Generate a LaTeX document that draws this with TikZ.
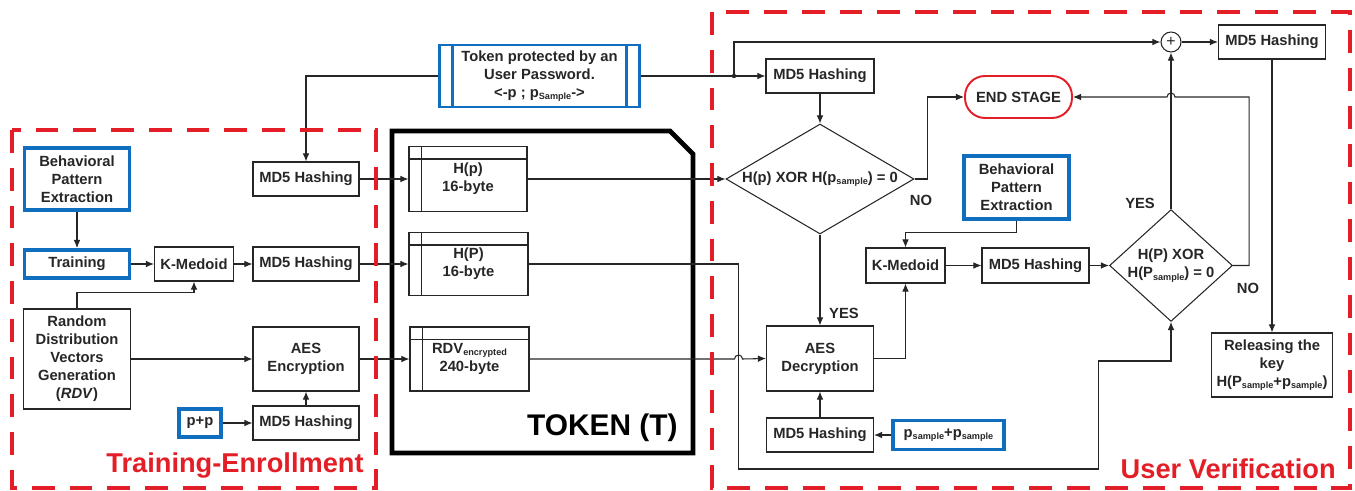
\documentclass[tikz,border=0pt]{standalone}
\usepackage{fontspec}
\setmainfont{Liberation Sans}
\usetikzlibrary{arrows.meta,calc,shapes.geometric}
\definecolor{ink}{RGB}{38,38,38}
\definecolor{blueln}{RGB}{16,110,190}
\definecolor{redln}{RGB}{228,30,38}
\newcommand{\subtxt}[1]{\raisebox{-0.3ex}{\fontsize{5.2}{6}\selectfont #1}}

\begin{document}
\begin{tikzpicture}[x=0.02cm, y=-0.02cm,
  font=\fontsize{8.4}{10.2}\selectfont\bfseries,
  >={Latex[length=4.6pt,width=3.8pt]},
  procbox/.style={draw=ink, line width=0.6pt, text=ink, align=center, inner sep=1pt},
  bluebox/.style={procbox, draw=blueln, line width=2.2pt},
  cond/.style={diamond, draw=ink, line width=0.6pt, text=ink, align=center, inner sep=0pt},
  conn/.style={draw=ink, line width=0.6pt, ->},
  wire/.style={draw=ink, line width=0.6pt},
  stagebox/.style={draw=redln, line width=1.9pt, dash pattern=on 13pt off 8.5pt},
  stagename/.style={text=redln, font=\fontsize{15.5}{18}\selectfont\bfseries, anchor=east, inner sep=0pt},
  answer/.style={text=ink, inner sep=0pt}
]
\useasboundingbox (0,0) rectangle (1355,490);

% ---------- token container ----------
\draw[black, line width=2.7pt, line join=miter]
  (392,131) -- (670,131) -- (693,154) -- (693,453) -- (392,453) -- cycle;
\node[font=\fontsize{17}{20}\selectfont\bfseries, text=black, anchor=east, inner sep=0pt] (toklabel) at (678,428) {TOKEN (T)};

\node[procbox, minimum width=2.36cm, minimum height=1.30cm] (hp) at (468,179) {H(p)\\16-byte};
\node[procbox, minimum width=2.38cm, minimum height=1.26cm] (hP) at (468.5,264) {H(P)\\16-byte};
\node[procbox, minimum width=2.38cm, minimum height=1.28cm] (rdvt) at (469.5,359) {RDV\subtxt{encrypted}\\240-byte};
\foreach \e in {hp,hP,rdvt}{
  \draw[ink, line width=0.6pt] ($(\e.north west)+(0,13)$) -- ($(\e.north east)+(0,13)$);
  \draw[ink, line width=0.6pt] ($(\e.north west)+(13,0)$) -- ($(\e.south west)+(13,0)$);
}

% ---------- password token ----------
\node[procbox, draw=blueln, line width=1.4pt, minimum width=4.0cm, minimum height=1.24cm] (tokpw) at (539.5,76)
  {Token protected by an\\User Password.\\<-p ; p\subtxt{Sample}->};
\draw[blueln, line width=1.4pt] ($(tokpw.north west)+(14,0)$) -- ($(tokpw.south west)+(14,0)$);
\draw[blueln, line width=1.4pt] ($(tokpw.north east)+(-14,0)$) -- ($(tokpw.south east)+(-14,0)$);

% ---------- training / enrollment ----------
\node[bluebox, minimum width=2.10cm, minimum height=1.24cm] (bpeA) at (77,179) {Behavioral\\Pattern\\Extraction};
\node[bluebox, minimum width=2.10cm, minimum height=0.56cm] (train) at (77,264) {Training};
\node[procbox, minimum width=1.58cm, minimum height=0.68cm] (kmedA) at (194,264) {K-Medoid};
\node[procbox, minimum width=2.12cm, minimum height=0.68cm] (md5A) at (306,179) {MD5 Hashing};
\node[procbox, minimum width=2.12cm, minimum height=0.68cm] (md5B) at (306,264) {MD5 Hashing};
\node[procbox, minimum width=2.14cm, minimum height=2.0cm] (rdvgen) at (77,359) {Random\\Distribution\\Vectors\\Generation\\(\textit{RDV})};
\node[procbox, minimum width=2.12cm, minimum height=1.28cm] (aesE) at (306,359) {AES\\Encryption};
\node[bluebox, minimum width=0.84cm, minimum height=0.56cm] (pp) at (200,423) {p+p};
\node[procbox, minimum width=2.12cm, minimum height=0.68cm] (md5C) at (306,423) {MD5 Hashing};

% ---------- user verification ----------
\node[procbox, minimum width=2.16cm, minimum height=0.68cm] (md5V) at (820,76) {MD5 Hashing};
\node[draw=redln, line width=1.1pt, rounded corners=0.4cm, minimum width=2.14cm, minimum height=0.84cm, text=ink] (endst) at (1018.5,97) {END STAGE};
\node[cond, shape aspect=1.7, minimum width=3.76cm, minimum height=2.2cm] (dA) at (820,179) {H(p) XOR H(p\subtxt{sample}) = 0};
\node[bluebox, minimum width=2.10cm, minimum height=1.26cm] (bpeB) at (1016.5,187.5) {Behavioral\\Pattern\\Extraction};
\node[procbox, minimum width=1.58cm, minimum height=0.70cm] (kmedB) at (905.5,265.5) {K-Medoid};
\node[procbox, minimum width=2.14cm, minimum height=0.70cm] (md5D) at (1035.5,265.5) {MD5 Hashing};
\node[cond, shape aspect=1.1, minimum width=2.38cm, minimum height=2.14cm] (dB) at (1171,265.5) {H(P) XOR\\H(P\subtxt{sample}) = 0};
\node[circle, draw=ink, line width=0.6pt, minimum size=0.4cm, inner sep=0pt, text=ink, font=\fontsize{9}{9}\selectfont\mdseries] (xor) at (1171,42) {+};
\node[procbox, minimum width=2.14cm, minimum height=0.68cm] (md5T) at (1272,42) {MD5 Hashing};
\node[procbox, minimum width=2.42cm, minimum height=1.28cm] (rel) at (1272,365) {Releasing the\\key\\H(P\subtxt{sample}+p\subtxt{sample})};
\node[procbox, minimum width=2.14cm, minimum height=1.30cm] (aesD) at (820,358.5) {AES\\Decryption};
\node[procbox, minimum width=2.14cm, minimum height=0.68cm] (md5E) at (820,435) {MD5 Hashing};
\node[bluebox, minimum width=2.22cm, minimum height=0.58cm] (ps) at (948.5,435) {p\subtxt{sample}+p\subtxt{sample}};

\node[answer] (yesA) at (844,313) {YES};
\node[answer] (noA) at (921,200) {NO};
\node[answer] (yesB) at (1140,203) {YES};
\node[answer] (noB) at (1248,288) {NO};

% ---------- connectors: enrollment ----------
\draw[conn] (bpeA) -- (train);
\draw[conn] (train) -- (kmedA);
\draw[conn] (kmedA) -- (md5B);
\draw[conn] (md5B) -- (hP);
\draw[conn] (md5A) -- (hp);
\draw[conn] (rdvgen.north) -- ++(0,-16) -| (kmedA.south);
\draw[conn] (rdvgen) -- (aesE);
\draw[conn] (aesE) -- (rdvt);
\draw[conn] (pp) -- (md5C);
\draw[conn] (md5C) -- (aesE);

% ---------- connectors: password token ----------
\coordinate (dot) at (734,76);
\draw[conn] (tokpw.west) -| (md5A.north);
\draw[wire] (tokpw.east) -- (dot);
\fill[ink] (dot) circle[radius=2.2];
\draw[conn] (dot) -- (md5V);
\draw[conn] (dot) |- (xor.west);
\draw[conn] (xor) -- (md5T);
\draw[conn] (md5T) -- (rel);

% ---------- connectors: verification ----------
\draw[conn] (md5V) -- (dA);
\draw[conn] (hp.east) -- (dA.west);
\draw[conn] (dA.east) -- ++(13,0) |- (endst.west);
\draw[conn] (dA.south) -- (aesD.north);
\draw[conn] (aesD.east) -| (kmedB.south);
\draw[conn] (bpeB.south) -- ++(0,12) -| (kmedB.north);
\draw[conn] (kmedB) -- (md5D);
\draw[conn] (md5D) -- (dB.west);
\draw[conn] (dB.north) -- (xor.south);
\draw[conn] (dB.east) -- ++(16,0) |- ($(xor.south |- endst.east)+(4,0)$)
  arc[start angle=0, end angle=-180, radius=4] -- (endst.east);
\draw[conn] (ps) -- (md5E);
\draw[conn] (md5E) -- (aesD);

\coordinate (hopP) at ($(hP.east)+(210,0)$);
\draw[conn] (rdvt.east) -- ($(hopP |- rdvt.east)+(-4,0)$)
  arc[start angle=180, end angle=360, radius=4] -- (aesD.west);
\draw[conn] (hP.east) -- (hopP) -- ++(0,205) -- ++(360,0) -- ++(0,-108) -| (dB.south);

% ---------- stage frames ----------
\draw[stagebox] (12,130) rectangle (376,488);
\draw[stagebox] (712,12) rectangle (1350,488);
\node[stagename] (enrollname) at (364,466) {Training-Enrollment};
\node[stagename] (verifname) at (1336,469) {User Verification};
\end{tikzpicture}
\end{document}
